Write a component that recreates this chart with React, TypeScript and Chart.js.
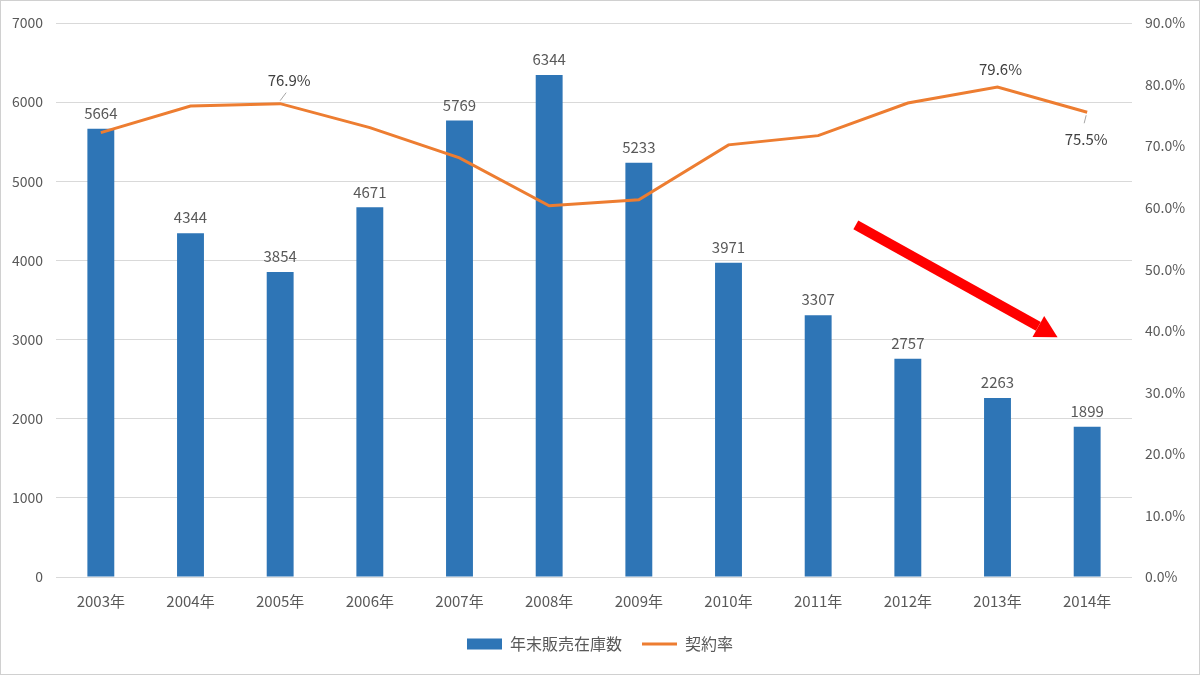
import React, { useEffect, useRef } from "react";
import { Chart, registerables } from "chart.js";

Chart.register(...registerables);

const years = ["2003年", "2004年", "2005年", "2006年", "2007年", "2008年", "2009年", "2010年", "2011年", "2012年", "2013年", "2014年"];
const inventory = [5664, 4344, 3854, 4671, 5769, 6344, 5233, 3971, 3307, 2757, 2263, 1899];
const contractRate = [72.2, 76.5, 76.9, 73.0, 68.1, 60.3, 61.3, 70.2, 71.7, 77.0, 79.6, 75.5];
const labeledRateYears = ["2005年", "2013年", "2014年"];
const rateLabelBelowYears = ["2014年"];
const leftTicksMax = 7000;
const rightTicksMax = 90;
// trend arrow in data space: [category index, left-axis value]
const arrowFrom = [8.42, 4450];
const arrowTo = [10.67, 3030];

const FONT = "'Noto Sans CJK JP', 'Noto Sans', sans-serif";

const labelsPlugin = {
  id: "customLabels",
  afterDatasetsDraw(chart: any) {
    const ctx = chart.ctx;
    ctx.save();
    ctx.font = `15px ${FONT}`;
    ctx.textAlign = "center";
    const barMeta = chart.getDatasetMeta(0);
    ctx.fillStyle = "#595959";
    ctx.textBaseline = "bottom";
    barMeta.data.forEach((el: any, i: number) => {
      ctx.fillText(String(inventory[i]), el.x, el.y - 8);
    });
    const lineMeta = chart.getDatasetMeta(1);
    ctx.fillStyle = "#404040";
    lineMeta.data.forEach((el: any, i: number) => {
      const yr = years[i];
      if (!labeledRateYears.includes(yr)) return;
      const txt = contractRate[i].toFixed(1) + "%";
      const below = rateLabelBelowYears.includes(yr);
      ctx.textBaseline = "middle";
      ctx.strokeStyle = "#a6a6a6";
      ctx.lineWidth = 1;
      if (below) {
        ctx.fillText(txt, el.x - 1, el.y + 27);
        ctx.beginPath();
        ctx.moveTo(el.x - 1, el.y + 3);
        ctx.lineTo(el.x - 3, el.y + 11);
        ctx.stroke();
      } else if (i === 2) {
        ctx.fillText(txt, el.x + 9, el.y - 23);
        ctx.beginPath();
        ctx.moveTo(el.x, el.y - 3);
        ctx.lineTo(el.x + 6, el.y - 11);
        ctx.stroke();
      } else {
        ctx.fillText(txt, el.x + 3, el.y - 18);
      }
    });
    const xs = chart.scales.x;
    const ys = chart.scales.y;
    const x0 = xs.getPixelForValue(arrowFrom[0]);
    const y0 = ys.getPixelForValue(arrowFrom[1]);
    const x1 = xs.getPixelForValue(arrowTo[0]);
    const y1 = ys.getPixelForValue(arrowTo[1]);
    const ang = Math.atan2(y1 - y0, x1 - x0);
    const headLen = 22;
    const headHalf = 12;
    const bx = x1 - headLen * Math.cos(ang);
    const by = y1 - headLen * Math.sin(ang);
    ctx.strokeStyle = "#ff0000";
    ctx.fillStyle = "#ff0000";
    ctx.lineWidth = 10;
    ctx.lineCap = "butt";
    ctx.beginPath();
    ctx.moveTo(x0, y0);
    ctx.lineTo(bx, by);
    ctx.stroke();
    ctx.beginPath();
    ctx.moveTo(x1, y1);
    ctx.lineTo(bx + headHalf * Math.sin(ang), by - headHalf * Math.cos(ang));
    ctx.lineTo(bx - headHalf * Math.sin(ang), by + headHalf * Math.cos(ang));
    ctx.closePath();
    ctx.fill();
    ctx.restore();
  },
};

export default function App() {
  const ref = useRef<HTMLCanvasElement | null>(null);
  useEffect(() => {
    document.body.style.margin = "0";
    Chart.defaults.font.family = FONT;
    const chart = new Chart(ref.current as HTMLCanvasElement, {
      type: "bar",
      data: {
        labels: years,
        datasets: [
          {
            type: "bar",
            label: "年末販売在庫数",
            data: inventory,
            backgroundColor: "#2e75b6",
            borderWidth: 0,
            barPercentage: 0.6,
            categoryPercentage: 0.5,
            yAxisID: "y",
            order: 2,
            pointStyle: "rect",
          } as any,
          {
            type: "line",
            label: "契約率",
            data: contractRate,
            borderColor: "#ed7d31",
            backgroundColor: "#ed7d31",
            borderWidth: 3,
            pointRadius: 0,
            tension: 0,
            yAxisID: "y1",
            order: 1,
            pointStyle: "line",
          } as any,
        ],
      },
      options: {
        responsive: false,
        animation: false,
        layout: { padding: { top: 22, left: 0, right: 0, bottom: 12 } },
        plugins: {
          tooltip: { enabled: false },
          legend: {
            position: "bottom",
            labels: {
              usePointStyle: true,
              pointStyleWidth: 35,
              boxHeight: 11,
              padding: 20,
              color: "#595959",
              font: { size: 16, family: FONT },
              sort: (a: any, b: any) => a.datasetIndex - b.datasetIndex,
            },
          },
        },
        scales: {
          x: {
            grid: { display: false, drawTicks: false },
            border: { display: false },
            ticks: { color: "#595959", font: { size: 15 }, padding: 15, maxRotation: 0 },
            afterFit: (s: any) => { s.height = 39; },
          },
          y: {
            position: "left",
            min: 0,
            max: leftTicksMax,
            ticks: {
              stepSize: 1000,
              color: "#595959",
              font: { size: 14 },
              padding: 13,
              callback: (v: any) => String(v),
            },
            grid: { color: "#d9d9d9", drawTicks: false, lineWidth: 1 },
            border: { display: false },
            afterFit: (s: any) => { s.width = 55; },
          },
          y1: {
            position: "right",
            min: 0,
            max: rightTicksMax,
            ticks: {
              stepSize: 10,
              color: "#595959",
              font: { size: 14 },
              padding: 13,
              callback: (v: any) => Number(v).toFixed(1) + "%",
            },
            grid: { display: false, drawTicks: false },
            border: { display: false },
            afterFit: (s: any) => { s.width = 67; },
          },
        },
      } as any,
      plugins: [labelsPlugin],
    });
    return () => chart.destroy();
  }, []);
  return (
    <div
      style={{
        position: "absolute",
        left: 0,
        top: 0,
        width: 1200,
        height: 675,
        boxSizing: "border-box",
        border: "1px solid #d0d0d0",
        background: "#fff",
      }}
    >
      <canvas ref={ref} width={1198} height={673} style={{ display: "block" }} />
    </div>
  );
}
